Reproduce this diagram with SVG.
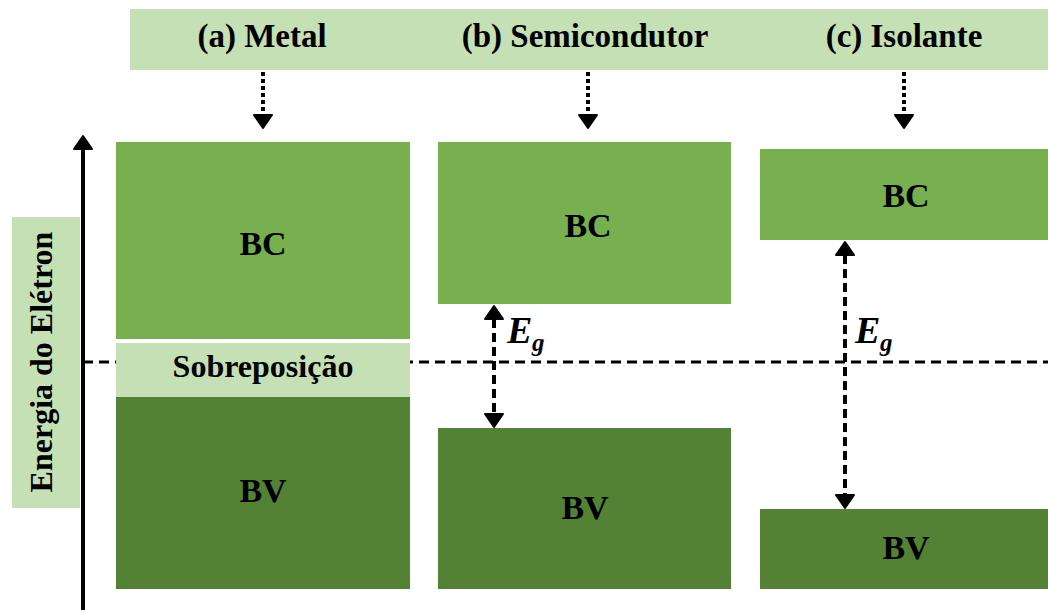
<svg xmlns="http://www.w3.org/2000/svg" width="1048" height="610" viewBox="0 0 1048 610">
<defs>
<style>
.t{font-family:"Liberation Serif","Times New Roman",serif;font-weight:bold;fill:#000;text-anchor:middle}
.h{font-size:33px}
.b{font-size:34px}
.light{fill:#C5E0B4}
.mid{fill:#78B04F}
.dark{fill:#548235}
.dot{stroke:#000;stroke-width:4;stroke-dasharray:4 3;fill:none}
.dash{stroke:#000;stroke-width:3;stroke-dasharray:10 6;fill:none}
.eg{stroke:#000;stroke-width:4;stroke-dasharray:9 5;fill:none}
.ah{fill:#000;stroke:#000;stroke-width:2;stroke-linejoin:round}
.eg-t{font-family:"Liberation Serif","Times New Roman",serif;font-weight:bold;font-style:italic}
</style>
</defs>
<rect width="1048" height="610" fill="#fff"/>

<g id="header">
<rect class="light" x="130" y="9" width="918" height="61"/>
<text class="t h" x="262" y="47">(a) Metal</text>
<text class="t h" x="585" y="47">(b) Semicondutor</text>
<text class="t h" x="904" y="47">(c) Isolante</text>
</g>

<g id="axis-label">
<rect class="light" x="12" y="217" width="68" height="291"/>
<text class="t" style="font-size:32px" transform="translate(52,362) rotate(-90)" x="0" y="0">Energia do Elétron</text>
</g>

<g id="connectors">
<line class="dash" x1="83" y1="362" x2="1048" y2="362"/>
<line x1="83" y1="148" x2="83" y2="610" stroke="#000" stroke-width="4"/>
<path class="ah" d="M83,136 L92,149 L74,149 Z"/>
<line class="dot" x1="263" y1="72" x2="263" y2="114"/>
<path class="ah" d="M263,128 L272,115 L254,115 Z"/>
<line class="dot" x1="588" y1="72" x2="588" y2="114"/>
<path class="ah" d="M588,128 L597,115 L579,115 Z"/>
<line class="dot" x1="904" y1="72" x2="904" y2="114"/>
<path class="ah" d="M904,128 L913,115 L895,115 Z"/>
</g>

<g id="metal-bc">
<rect class="mid" x="116" y="142" width="294" height="197"/>
<text class="t b" x="263" y="255">BC</text>
</g>
<g id="metal-overlap">
<rect class="light" x="116" y="343" width="294" height="54"/>
<text class="t" style="font-size:32px" x="263" y="377">Sobreposição</text>
</g>
<g id="metal-bv">
<rect class="dark" x="116" y="397" width="294" height="192"/>
<text class="t b" x="263" y="502">BV</text>
</g>

<g id="semi-bc">
<rect class="mid" x="438" y="142" width="293" height="162"/>
<text class="t b" x="588" y="237">BC</text>
</g>
<g id="semi-bv">
<rect class="dark" x="438" y="428" width="293" height="161"/>
<text class="t b" x="585" y="519">BV</text>
</g>

<g id="iso-bc">
<rect class="mid" x="760" y="149" width="288" height="91"/>
<text class="t b" x="906" y="207">BC</text>
</g>
<g id="iso-bv">
<rect class="dark" x="760" y="509" width="288" height="80"/>
<text class="t b" x="906" y="559">BV</text>
</g>

<g id="eg-semi">
<line class="eg" x1="494" y1="319" x2="494" y2="414"/>
<path class="ah" d="M494,306 L503,319 L485,319 Z"/>
<path class="ah" d="M494,427 L503,414 L485,414 Z"/>
<text class="eg-t" x="507" y="343" style="font-size:38px">E</text>
<text class="eg-t" x="532" y="351" style="font-size:25px">g</text>
</g>

<g id="eg-iso">
<line class="eg" x1="845" y1="255" x2="845" y2="495"/>
<path class="ah" d="M845,242 L854,255 L836,255 Z"/>
<path class="ah" d="M845,508 L854,495 L836,495 Z"/>
<text class="eg-t" x="855" y="343" style="font-size:38px">E</text>
<text class="eg-t" x="880" y="351" style="font-size:25px">g</text>
</g>
</svg>
